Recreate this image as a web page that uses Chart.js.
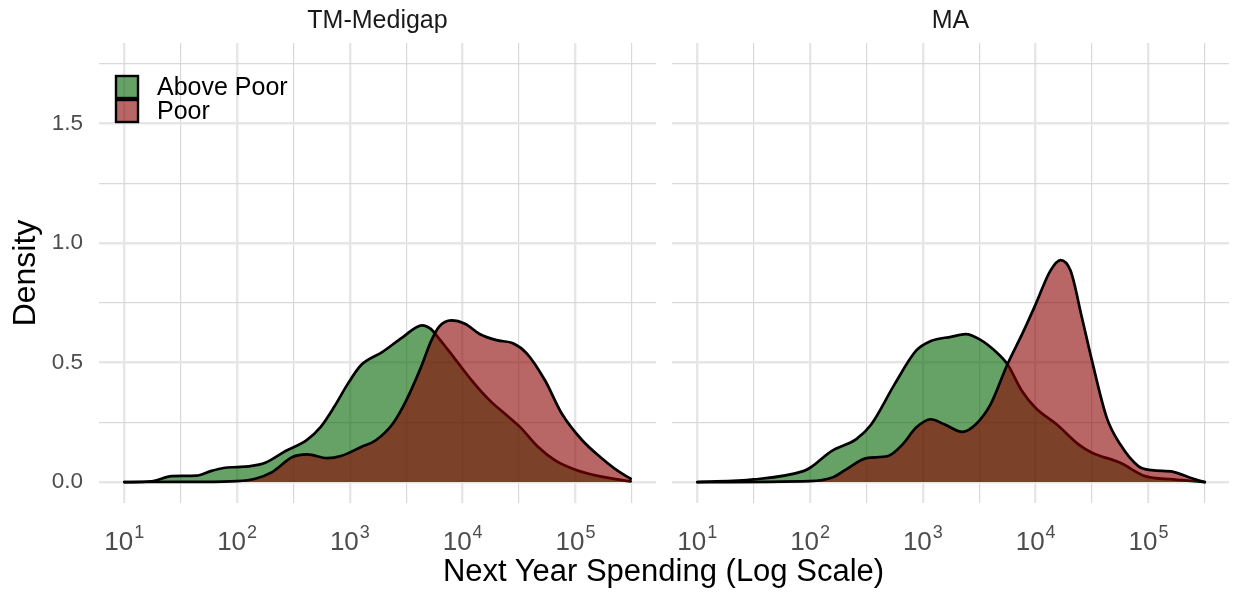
<!DOCTYPE html>
<html>
<head>
<meta charset="utf-8">
<title>Next Year Spending by Income Group</title>
<script src="https://cdn.jsdelivr.net/npm/chart.js@4.4.1/dist/chart.umd.min.js"></script>
<style>
  html, body { margin: 0; padding: 0; background: #ffffff; width: 1233px; height: 592px; overflow: hidden; }
  #wrap { position: relative; width: 1233px; height: 592px; }
  canvas { position: absolute; top: 0; }
  #panelLeft { left: 0; }
  #panelRight { left: 660px; }
  #xTitle {
    position: absolute; left: 99px; width: 1129px; top: 553px;
    text-align: center; color: #000;
    font: 31px "Liberation Sans", Arial, Helvetica, sans-serif; line-height: 36px;
  }
</style>
</head>
<body>
<div id="wrap">
  <canvas id="panelLeft" width="660" height="592"></canvas>
  <canvas id="panelRight" width="573" height="592"></canvas>
  <div id="xTitle">Next Year Spending (Log Scale)</div>
</div>
<script>
// ---- data -------------------------------------------------------------
const facetTitles = ['TM-Medigap', 'MA'];
const groupLabels = ['Above Poor', 'Poor'];

// x positions are log10(spending); densities are per log10 unit
const tmAboveExp     = [1.00, 1.24, 1.42, 1.52, 1.64, 1.76, 1.88, 2.00, 2.10, 2.25, 2.43, 2.62, 2.74, 2.86, 2.98, 3.10, 3.29, 3.47, 3.64, 3.72, 3.78, 3.93, 4.08, 4.24, 4.39, 4.51, 4.67, 4.82, 5.00, 5.22, 5.49];
const tmAboveDensity = [0.000, 0.003, 0.025, 0.026, 0.027, 0.045, 0.059, 0.063, 0.066, 0.081, 0.130, 0.177, 0.230, 0.314, 0.410, 0.490, 0.545, 0.607, 0.656, 0.640, 0.607, 0.517, 0.426, 0.342, 0.280, 0.230, 0.147, 0.091, 0.052, 0.024, 0.003];

const tmPoorExp      = [1.00, 1.50, 1.70, 2.00, 2.16, 2.31, 2.49, 2.62, 2.80, 2.92, 3.10, 3.23, 3.38, 3.50, 3.63, 3.72, 3.79, 3.90, 4.02, 4.15, 4.30, 4.45, 4.57, 4.73, 4.88, 5.06, 5.22, 5.37, 5.49];
const tmPoorDensity  = [0.000, 0.001, 0.001, 0.004, 0.014, 0.042, 0.105, 0.116, 0.100, 0.109, 0.147, 0.175, 0.244, 0.342, 0.480, 0.590, 0.650, 0.677, 0.663, 0.620, 0.594, 0.580, 0.538, 0.426, 0.286, 0.175, 0.105, 0.049, 0.014];

const maAboveExp     = [1.00, 1.50, 1.94, 2.00, 2.19, 2.41, 2.54, 2.75, 2.94, 3.07, 3.25, 3.38, 3.50, 3.66, 3.75, 3.88, 4.00, 4.19, 4.38, 4.50, 4.75, 4.97, 5.22, 5.50];
const maAboveDensity = [0.000, 0.011, 0.046, 0.060, 0.130, 0.180, 0.240, 0.410, 0.550, 0.590, 0.608, 0.619, 0.598, 0.540, 0.493, 0.380, 0.310, 0.240, 0.158, 0.123, 0.081, 0.025, 0.011, 0.000];

const maPoorExp      = [1.00, 2.00, 2.19, 2.32, 2.50, 2.69, 2.82, 2.94, 3.07, 3.19, 3.35, 3.47, 3.60, 3.75, 3.88, 4.00, 4.13, 4.22, 4.31, 4.41, 4.50, 4.63, 4.75, 4.91, 5.03, 5.22, 5.37, 5.50];
const maPoorDensity  = [0.000, 0.004, 0.018, 0.053, 0.100, 0.109, 0.158, 0.228, 0.263, 0.242, 0.210, 0.242, 0.325, 0.493, 0.619, 0.744, 0.884, 0.929, 0.884, 0.689, 0.507, 0.270, 0.158, 0.067, 0.050, 0.043, 0.018, 0.000];

// axis ticks: decades labelled, half-decades as minor grid
const xTickExponents = [1, 1.5, 2, 2.5, 3, 3.5, 4, 4.5, 5, 5.5];
const yTicks = [0, 0.25, 0.5, 0.75, 1, 1.25, 1.5, 1.75];

// ---- styling ----------------------------------------------------------
const FONT = '"Liberation Sans", Arial, Helvetica, sans-serif';
const FILL_ABOVE = 'rgba(0, 100, 0, 0.6)';   // darkgreen
const FILL_POOR  = 'rgba(139, 0, 0, 0.6)';   // darkred

Chart.defaults.font.family = FONT;

function isDecade(v) {
  const e = Math.log10(v);
  return Math.abs(e - Math.round(e)) < 1e-6;
}
function isHalfUnit(v) {
  return Math.abs(v / 0.5 - Math.round(v / 0.5)) < 1e-9;
}
function toPoints(exps, dens) {
  return exps.map((e, i) => ({ x: Math.pow(10, e), y: dens[i] }));
}

// "10" with a raised exponent under each decade tick of the x scale
const powerTickLabels = {
  id: 'powerTickLabels',
  afterDraw(chart) {
    const sx = chart.scales.x;
    const ctx = chart.ctx;
    const baseY = chart.chartArea.bottom + 47;
    ctx.save();
    ctx.fillStyle = '#4d4d4d';
    ctx.textBaseline = 'alphabetic';
    ctx.textAlign = 'left';
    sx.ticks.forEach(t => {
      if (!isDecade(t.value)) return;
      const base = '10';
      const exp = String(Math.round(Math.log10(t.value)));
      ctx.font = '26px ' + FONT;
      const wb = ctx.measureText(base).width;
      ctx.font = '18px ' + FONT;
      const we = ctx.measureText(exp).width;
      const x0 = sx.getPixelForValue(t.value) - (wb + we + 1) / 2;
      ctx.font = '26px ' + FONT;
      ctx.fillText(base, x0, baseY);
      ctx.font = '18px ' + FONT;
      ctx.fillText(exp, x0 + wb + 1, baseY - 12);
    });
    ctx.restore();
  }
};

// legend keys drawn inside the top-left of the panel
const insideLegend = {
  id: 'insideLegend',
  afterDraw(chart, args, opts) {
    if (!opts.show) return;
    const ctx = chart.ctx;
    const area = chart.chartArea;
    const size = 22, step = 24;
    const x0 = area.left + 17, y0 = area.top + 33;
    ctx.save();
    chart.data.datasets.forEach((ds, i) => {
      const y = y0 + i * step;
      ctx.fillStyle = ds.backgroundColor;
      ctx.fillRect(x0, y, size, size);
      ctx.lineWidth = 2.4;
      ctx.strokeStyle = '#000';
      ctx.strokeRect(x0, y, size, size);
      ctx.fillStyle = '#000';
      ctx.font = '25px ' + FONT;
      ctx.textBaseline = 'middle';
      ctx.textAlign = 'left';
      ctx.fillText(ds.label, x0 + 41, y + size / 2 + 1);
    });
    ctx.restore();
  }
};

function gridColor(major) { return major ? '#e6e6e6' : '#d9d9d9'; }
function gridWidth(major) { return major ? 2.4 : 1.2; }

function makePanel(canvasId, title, aboveExp, aboveDen, poorExp, poorDen, isLeft) {
  return new Chart(document.getElementById(canvasId), {
    type: 'line',
    data: {
      datasets: [
        {
          label: groupLabels[0],
          data: toPoints(aboveExp, aboveDen),
          backgroundColor: FILL_ABOVE,
          borderColor: '#000',
          borderWidth: 2.7,
          fill: 'origin',
          order: 2
        },
        {
          label: groupLabels[1],
          data: toPoints(poorExp, poorDen),
          backgroundColor: FILL_POOR,
          borderColor: '#000',
          borderWidth: 2.7,
          fill: 'origin',
          order: 1
        }
      ]
    },
    options: {
      responsive: false,
      animation: false,
      devicePixelRatio: 1,
      elements: {
        point: { radius: 0 },
        line: { cubicInterpolationMode: 'monotone', borderJoinStyle: 'round', borderCapStyle: 'round' }
      },
      layout: { padding: { left: isLeft ? 0 : 12, right: 4, top: 0, bottom: 0 } },
      plugins: {
        legend: { display: false },
        tooltip: { enabled: false },
        insideLegend: { show: isLeft },
        title: {
          display: true,
          text: title,
          fullSize: false,
          color: '#1a1a1a',
          font: { size: 25, weight: 'normal', family: FONT },
          padding: { top: 6, bottom: 7 }
        }
      },
      scales: {
        x: {
          type: 'logarithmic',
          min: Math.pow(10, 0.7755),
          max: Math.pow(10, 5.7145),
          afterBuildTicks: (scale) => {
            scale.ticks = xTickExponents.map(e => ({ value: Math.pow(10, e) }));
          },
          afterFit: (scale) => { scale.height = 89; },
          border: { display: false },
          grid: {
            drawTicks: false,
            color: (c) => gridColor(c.tick && isDecade(c.tick.value)),
            lineWidth: (c) => gridWidth(c.tick && isDecade(c.tick.value))
          },
          ticks: { display: false, autoSkip: false, maxRotation: 0 }
        },
        y: {
          type: 'linear',
          min: -0.0875,
          max: 1.8375,
          afterBuildTicks: (scale) => {
            scale.ticks = yTicks.map(v => ({ value: v }));
          },
          afterFit: (scale) => { scale.width = isLeft ? 99 : 0; },
          border: { display: false },
          grid: {
            drawTicks: false,
            color: (c) => gridColor(c.tick && isHalfUnit(c.tick.value)),
            lineWidth: (c) => gridWidth(c.tick && isHalfUnit(c.tick.value))
          },
          ticks: {
            display: isLeft,
            color: '#4d4d4d',
            padding: 16,
            font: { size: 22.5, family: FONT },
            callback: (v) => isHalfUnit(v) ? Number(v).toFixed(1) : ''
          },
          title: {
            display: isLeft,
            text: 'Density',
            color: '#000',
            font: { size: 32, family: FONT },
            padding: { top: 7, bottom: 0 }
          }
        }
      }
    },
    plugins: [insideLegend, powerTickLabels]
  });
}

makePanel('panelLeft', facetTitles[0], tmAboveExp, tmAboveDensity, tmPoorExp, tmPoorDensity, true);
makePanel('panelRight', facetTitles[1], maAboveExp, maAboveDensity, maPoorExp, maPoorDensity, false);
</script>
</body>
</html>
